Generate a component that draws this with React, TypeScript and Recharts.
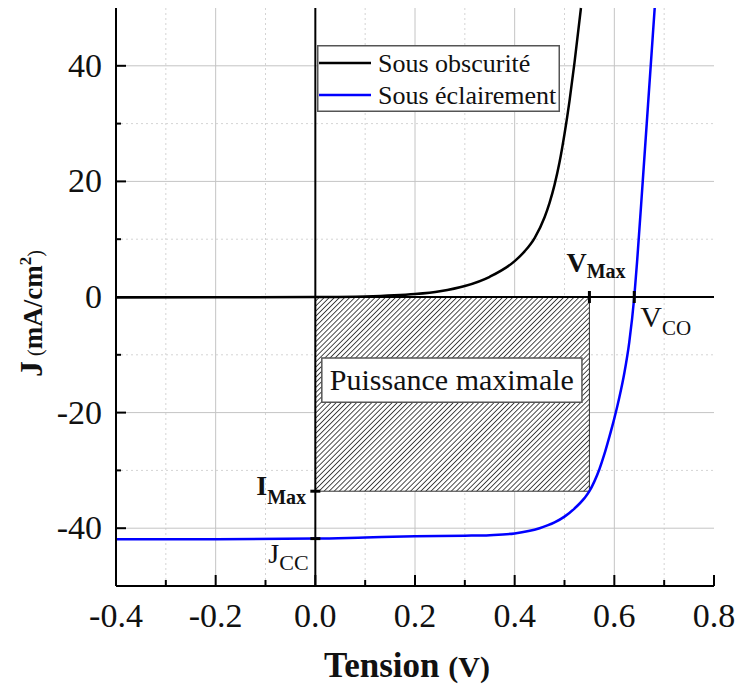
import React from 'react';
import {
  ComposedChart, XAxis, YAxis, CartesianGrid, Line, ReferenceLine,
  ReferenceArea, ReferenceDot, Legend,
} from 'recharts';

const FONT = '"Liberation Serif", "Times New Roman", serif';

// courbe J-V sous obscurité
const darkV = [-0.4, -0.2, 0, 0.1, 0.2, 0.25, 0.3, 0.35, 0.4, 0.42, 0.44, 0.46, 0.47, 0.48, 0.49, 0.5, 0.51, 0.52, 0.533];
const darkJ = [-0.1, -0.05, 0, 0.1, 0.5, 1.0, 1.9, 3.5, 6.2, 7.9, 10.2, 13.8, 16.3, 19.4, 23.3, 28.2, 33.9, 40.5, 50];

// courbe J-V sous éclairement
const lightV = [-0.4, -0.2, 0, 0.1, 0.2, 0.3, 0.35, 0.4, 0.45, 0.48, 0.5, 0.52, 0.54, 0.55, 0.56, 0.57, 0.58, 0.59, 0.6, 0.61, 0.62, 0.63, 0.64, 0.646, 0.657, 0.673, 0.681];
const lightJ = [-41.9, -41.9, -41.8, -41.6, -41.4, -41.3, -41.2, -40.9, -40.0, -39.0, -38.0, -36.6, -34.8, -33.6, -31.9, -29.8, -27.2, -24.2, -21.0, -17.4, -13.2, -7.8, 0, 6.5, 20, 40, 50];

const seriesNames = ['Sous obscurité', 'Sous éclairement'];
const seriesColors = ['#000000', '#0000ff'];

const xMajor = [-0.4, -0.2, 0, 0.2, 0.4, 0.6, 0.8];
const xMinor = [-0.3, -0.1, 0.1, 0.3, 0.5, 0.7];
const yMajor = [-40, -20, 0, 20, 40];
const yMinor = [-30, -10, 10, 30];

// points remarquables
const vMax = 0.55;
const iMax = -33.6;
const vCo = 0.64;
const jCc = -41.8;

const darkData = darkV.map((v, i) => ({ v, j: darkJ[i] }));
const lightData = lightV.map((v, i) => ({ v, j: lightJ[i] }));
const xTicks = [...xMajor, ...xMinor].sort((a, b) => a - b);
const yTicks = [...yMajor, ...yMinor].sort((a, b) => a - b);

const isIn = (list: number[], v: number) => list.some(m => Math.abs(m - v) < 1e-9);

const AxisTick = (props: any) => {
  const { x, y, payload, side } = props;
  const v = payload.value;
  if (side === 'bottom' || side === 'top') {
    const len = isIn(xMajor, v) ? 11 : 6;
    const dir = side === 'bottom' ? -1 : 1;
    return (
      <g>
        <line x1={x} y1={y} x2={x} y2={y + dir * len} stroke="#000" strokeWidth={2} />
        {side === 'bottom' && isIn(xMajor, v) && (
          <text x={x} y={y + 41} textAnchor="middle" fontSize={34} fontFamily={FONT} fill="#111">
            {v.toFixed(1)}
          </text>
        )}
      </g>
    );
  }
  const len = isIn(yMajor, v) ? 10 : 5;
  const dir = side === 'left' ? 1 : -1;
  return (
    <g>
      <line x1={x} y1={y} x2={x + dir * len} y2={y} stroke="#000" strokeWidth={2} />
      {side === 'left' && isIn(yMajor, v) && (
        <text x={x - 14} y={y + 11} textAnchor="end" fontSize={34} fontFamily={FONT} fill="#111">
          {String(v)}
        </text>
      )}
    </g>
  );
};

const YLabel = (props: any) => {
  const vb = props.viewBox;
  const x = vb.x + 42;
  const y = vb.y + vb.height / 2 + 80;
  return (
    <text x={x} y={y} transform={`rotate(-90, ${x}, ${y})`} fontFamily={FONT} fill="#111">
      <tspan fontSize={32} fontWeight="bold">J</tspan>
      <tspan fontSize={20}> (</tspan>
      <tspan fontSize={27} fontWeight="bold">mA/cm</tspan>
      <tspan fontSize={17} fontWeight="bold" dy={-11}>2</tspan>
      <tspan fontSize={20} dy={11}>)</tspan>
    </text>
  );
};

const XLabel = (props: any) => {
  const vb = props.viewBox;
  return (
    <text x={vb.x + vb.width / 2 - 8} y={vb.y + 91} textAnchor="middle" fontFamily={FONT} fontWeight="bold" fill="#111">
      <tspan fontSize={35}>Tension </tspan>
      <tspan fontSize={30}>(V)</tspan>
    </text>
  );
};

const BoxLabel = (props: any) => {
  const vb = props.viewBox;
  return (
    <text x={vb.x + vb.width / 2} y={vb.y + vb.height / 2 + 10} textAnchor="middle" fontSize={30} fontFamily={FONT} fill="#111">
      Puissance maximale
    </text>
  );
};

const LegendBox = () => (
  <svg width={243} height={67} style={{ display: 'block' }}>
    <rect x={0.75} y={0.75} width={241.5} height={65.5} fill="#fff" stroke="#555" strokeWidth={1.5} />
    {seriesNames.map((name, i) => (
      <g key={name}>
        <line x1={2} x2={54} y1={18 + i * 32} y2={18 + i * 32} stroke={seriesColors[i]} strokeWidth={2.5} />
        <text x={61} y={27 + i * 32} fontSize={26} fontFamily={FONT} fill="#111">{name}</text>
      </g>
    ))}
  </svg>
);

// petites marques + étiquettes à indices
const marker = (kind: string) => (p: any) => {
  const { cx, cy } = p;
  if (kind === 'vmax') {
    return (
      <g>
        <line x1={cx} x2={cx} y1={cy - 6} y2={cy + 6} stroke="#000" strokeWidth={3} />
        <text x={cx - 23} y={cy - 25} fontFamily={FONT} fontWeight="bold" fill="#111">
          <tspan fontSize={28}>V</tspan>
          <tspan fontSize={20} dy={6}>Max</tspan>
        </text>
      </g>
    );
  }
  if (kind === 'vco') {
    return (
      <g>
        <line x1={cx} x2={cx} y1={cy - 6} y2={cy + 6} stroke="#000" strokeWidth={3} />
        <text x={cx + 6} y={cy + 30} fontFamily={FONT} fill="#111">
          <tspan fontSize={30}>V</tspan>
          <tspan fontSize={21} dy={8}>CO</tspan>
        </text>
      </g>
    );
  }
  if (kind === 'imax') {
    return (
      <g>
        <line x1={cx - 5} x2={cx + 5} y1={cy} y2={cy} stroke="#000" strokeWidth={3} />
        <text x={cx - 59} y={cy + 4} fontFamily={FONT} fontWeight="bold" fill="#111">
          <tspan fontSize={28}>I</tspan>
          <tspan fontSize={20} dy={9}>Max</tspan>
        </text>
      </g>
    );
  }
  return (
    <g>
      <line x1={cx - 5} x2={cx + 5} y1={cy} y2={cy} stroke="#000" strokeWidth={3} />
      <text x={cx - 47} y={cy + 24} fontFamily={FONT} fill="#111">
        <tspan fontSize={28}>J</tspan>
        <tspan fontSize={22} dy={7}>CC</tspan>
      </text>
    </g>
  );
};

export default function App() {
  return (
    <div style={{ position: 'relative', width: 739, height: 684, background: '#fff' }}>
      <style>{'body{margin:0}'}</style>
      <svg width={0} height={0} style={{ position: 'absolute' }}>
        <defs>
          <pattern id="hatch" width={3.6} height={3.6} patternUnits="userSpaceOnUse" patternTransform="rotate(45)">
            <rect width={3.6} height={3.6} fill="#fff" />
            <line x1={0} y1={0} x2={0} y2={3.6} stroke="#111" strokeWidth={1.5} />
          </pattern>
        </defs>
      </svg>
      <ComposedChart width={739} height={684} margin={{ top: 8, right: 25, bottom: 0, left: 0 }}>
        <CartesianGrid verticalValues={xMinor} horizontalValues={yMinor} stroke="#d4d4d4" strokeDasharray="2 3" />
        <CartesianGrid verticalValues={[-0.2, 0.2, 0.4, 0.6]} horizontalValues={[-40, -20, 20, 40]} stroke="#c4c4c4" />
        <XAxis
          type="number" dataKey="v" domain={[-0.4, 0.8]} ticks={xTicks} interval={0}
          height={98} tickSize={0} tickMargin={0} tickLine={false}
          axisLine={{ stroke: '#000', strokeWidth: 2 }}
          tick={(p: any) => <AxisTick {...p} side="bottom" />}
          label={<XLabel />}
        />
        <XAxis
          xAxisId="top" orientation="top" type="number" dataKey="v" domain={[-0.4, 0.8]} ticks={xTicks} interval={0}
          height={0} tickSize={0} tickMargin={0} tickLine={false}
          axisLine={{ stroke: '#000', strokeWidth: 2 }}
          tick={(p: any) => <AxisTick {...p} side="top" />}
        />
        <YAxis
          type="number" domain={[-50, 50]} ticks={yTicks} interval={0}
          width={116} tickSize={0} tickMargin={0} tickLine={false}
          axisLine={{ stroke: '#000', strokeWidth: 2 }}
          tick={(p: any) => <AxisTick {...p} side="left" />}
          label={<YLabel />}
        />
        <YAxis
          yAxisId="right" orientation="right" type="number" domain={[-50, 50]} ticks={yTicks} interval={0}
          width={0} tickSize={0} tickMargin={0} tickLine={false}
          axisLine={{ stroke: '#000', strokeWidth: 2 }}
          tick={(p: any) => <AxisTick {...p} side="right" />}
        />
        <ReferenceArea x1={0} x2={vMax} y1={iMax} y2={0} fill="url(#hatch)" fillOpacity={1} stroke="#333" strokeWidth={1} />
        <ReferenceArea
          x1={0.013} x2={0.535} y1={-18.2} y2={-10.55} fill="#fff" fillOpacity={1} stroke="#555" strokeWidth={1.5}
          label={<BoxLabel />}
        />
        <ReferenceLine x={0} stroke="#000" strokeWidth={2} />
        <ReferenceLine y={0} stroke="#000" strokeWidth={2} />
        <Line data={darkData} dataKey="j" name={seriesNames[0]} type="monotone" stroke={seriesColors[0]}
          strokeWidth={2.5} dot={false} activeDot={false} isAnimationActive={false} />
        <Line data={lightData} dataKey="j" name={seriesNames[1]} type="monotone" stroke={seriesColors[1]}
          strokeWidth={2.5} dot={false} activeDot={false} isAnimationActive={false} />
        <ReferenceDot x={vMax} y={0} r={0} shape={marker('vmax')} />
        <ReferenceDot x={vCo} y={0} r={0} shape={marker('vco')} />
        <ReferenceDot x={0} y={iMax} r={0} shape={marker('imax')} />
        <ReferenceDot x={0} y={jCc} r={0} shape={marker('jcc')} />
        <Legend
          layout="vertical" align="center" verticalAlign="middle"
          content={<LegendBox />} wrapperStyle={{ left: 317, top: 45, width: 'auto' }}
        />
      </ComposedChart>
    </div>
  );
}
